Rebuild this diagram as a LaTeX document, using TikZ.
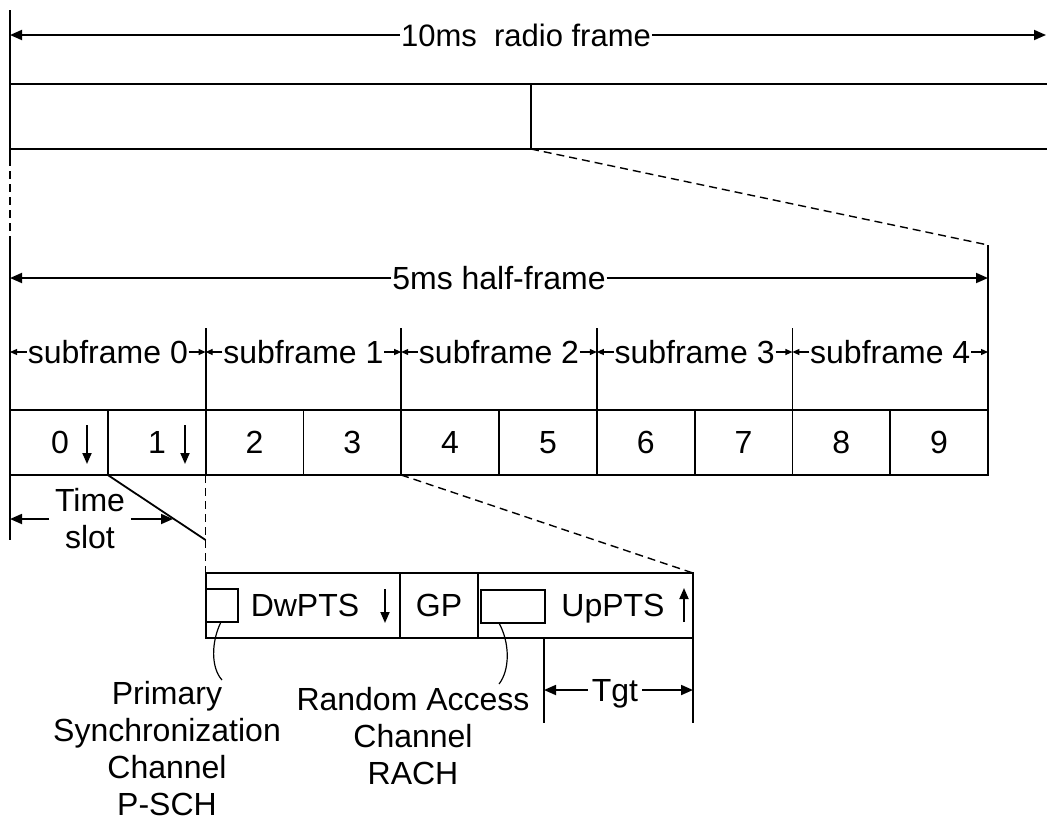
\documentclass[tikz,border=0pt]{standalone}
\usepackage{fontspec}
\setmainfont{Liberation Sans}
\usetikzlibrary{arrows.meta}
\begin{document}
\begin{tikzpicture}[x=1pt,y=-1pt, line width=1.8pt,
  txt/.style={font=\fontsize{32}{37}\selectfont, inner sep=0pt},
  one/.style={txt, text height=23pt, text depth=0pt},
  bigarrow/.style={-{Triangle[length=12pt,width=10pt]}},
  smallarrow/.style={-{Triangle[length=7pt,width=6pt]}},
  slotarrow/.style={-{Triangle[length=11pt,width=9pt]}},
  dsh/.style={dash pattern=on 8pt off 5pt, line width=1.4pt},
  thin/.style={line width=1.2pt}]
\useasboundingbox (0,0) rectangle (1047,823);

% ---------------- 10 ms radio frame ----------------
\coordinate (TL) at (10,10);
\coordinate (TLb) at (10,158);
\draw[line width=2.6pt] (TL) -- (TLb);
\node[one, font=\fontsize{31}{36}\selectfont] (t10) at (526,35) {10ms\ \ radio frame};
\coordinate (aL) at (10,35);
\coordinate (aR) at (1046,35);
\draw[bigarrow] (t10.west) -- (aL);
\draw[bigarrow] (t10.east) -- (aR);

\coordinate (F1) at (10,84);  \coordinate (F2) at (1047,84);
\coordinate (F3) at (10,149); \coordinate (F4) at (1047,149);
\coordinate (Fm1) at (531,84); \coordinate (Fm2) at (531,149);
\draw (F1) -- (F2);
\draw (F3) -- (F4);
\draw (Fm1) -- (Fm2);

% ---------------- dashed zoom lines ----------------
\coordinate (H0) at (10,240);
\coordinate (H1) at (988,245);
\draw[dsh] (TLb) -- (H0);
\draw[dsh] (Fm2) -- (H1);

% ---------------- 5 ms half frame ----------------
\coordinate (Hb) at (10,540);
\coordinate (H1b) at (988,475);
\draw (H0) -- (Hb);
\draw (H1) -- (H1b);
\node[one] (t5) at (499,278) {5ms half-frame};
\coordinate (bL) at (10,278);
\coordinate (bR) at (988,278);
\draw[bigarrow] (t5.west) -- (bL);
\draw[bigarrow] (t5.east) -- (bR);

% subframe dividers and labels
\foreach \i in {0,...,4} {
  \pgfmathsetmacro{\xl}{10+195.6*\i}
  \pgfmathsetmacro{\xr}{10+195.6*(\i+1)}
  \pgfmathsetmacro{\xc}{10+195.6*(\i+0.5)}
  \coordinate (sfL\i) at (\xl,352);
  \coordinate (sfR\i) at (\xr,352);
  \node[one] (sf\i) at (\xc,352) {subframe \i};
  \draw[smallarrow,thin] (sf\i.west) -- (sfL\i);
  \draw[smallarrow,thin] (sf\i.east) -- (sfR\i);
}
\foreach \i in {1,...,4} {
  \pgfmathsetmacro{\xl}{10+195.6*\i}
  \coordinate (dv\i a) at (\xl,328);
  \coordinate (dv\i b) at (\xl,475);
  \draw (dv\i a) -- (dv\i b);
}

% slot row
\coordinate (S0) at (10,410);
\coordinate (S1) at (988,475);
\draw (S0) rectangle (S1);
\foreach \k in {1,...,9} {
  \pgfmathsetmacro{\xs}{10+97.8*\k}
  \coordinate (sl\k a) at (\xs,410);
  \coordinate (sl\k b) at (\xs,475);
  \draw (sl\k a) -- (sl\k b);
}
\foreach \k in {2,...,9} {
  \pgfmathsetmacro{\xc}{10+97.8*(\k+0.5)}
  \node[one] (n\k) at (\xc,442) {\k};
}
\node[one] (n0) at (60,442) {0};
\node[one] (n1) at (157,442) {1};
\coordinate (d0a) at (87,425);  \coordinate (d0b) at (87,464);
\coordinate (d1a) at (185,425); \coordinate (d1b) at (185,464);
\draw[slotarrow] (d0a) -- (d0b);
\draw[slotarrow] (d1a) -- (d1b);

% time slot
\node[txt, align=center, inner xsep=5pt] (ts) at (90,519) {Time\\slot};
\coordinate (tsL) at (10,519);
\coordinate (tsR) at (173,519);
\draw[bigarrow] (ts.west) -- (tsL);
\draw[bigarrow] (ts.east) -- (tsR);
\coordinate (dg1) at (107.8,475);
\coordinate (dg2) at (205.6,540);
\draw (dg1) -- (dg2);

% zoom into special subframe
\coordinate (z1) at (205.6,475);
\coordinate (z2) at (205.6,573);
\coordinate (z3) at (401.2,475);
\coordinate (z4) at (693,573);
\draw[dsh] (z1) -- (z2);
\draw[dsh] (z3) -- (z4);

% special subframe box
\coordinate (B1) at (693,638);
\draw (z2) rectangle (B1);
\coordinate (g1a) at (400,573); \coordinate (g1b) at (400,638);
\coordinate (g2a) at (478,573); \coordinate (g2b) at (478,638);
\draw (g1a) -- (g1b);
\draw[line width=2.4pt] (g2a) -- (g2b);
\coordinate (p1) at (205.6,589); \coordinate (p2) at (238,622);
\draw (p1) rectangle (p2);
\coordinate (r1) at (481,590); \coordinate (r2) at (545,623);
\draw (r1) rectangle (r2);

\node[one] (dw) at (305,605) {DwPTS};
\node[one] (gp) at (439,605) {GP};
\node[one] (up) at (613,605) {UpPTS};
\coordinate (dwa) at (385,589); \coordinate (dwb) at (385,623);
\draw[slotarrow] (dwa) -- (dwb);
\coordinate (upa) at (684,622); \coordinate (upb) at (684,588);
\draw[slotarrow] (upa) -- (upb);

% leader curves
\coordinate (c1a) at (221,622); \coordinate (c1b) at (222,680);
\draw[thin] (c1a) .. controls (211,642) and (211,668) .. (c1b);
\coordinate (c2a) at (499,623); \coordinate (c2b) at (499,684);
\draw[thin] (c2a) .. controls (510,643) and (510,670) .. (c2b);

\node[txt, align=center] (psch) at (167,749) {Primary\\Synchronization\\Channel\\P-SCH};
\node[txt, align=center] (rach) at (413,736) {Random Access\\Channel\\RACH};

% Tgt
\coordinate (tg1) at (544,638); \coordinate (tg2) at (544,723);
\coordinate (tg3) at (693,723);
\draw (tg1) -- (tg2);
\draw (B1) -- (tg3);
\node[one, inner xsep=3pt] (tgt) at (615,690) {Tgt};
\coordinate (tgL) at (544,690); \coordinate (tgR) at (693,690);
\draw[bigarrow] (tgt.west) -- (tgL);
\draw[bigarrow] (tgt.east) -- (tgR);
\end{tikzpicture}
\end{document}
